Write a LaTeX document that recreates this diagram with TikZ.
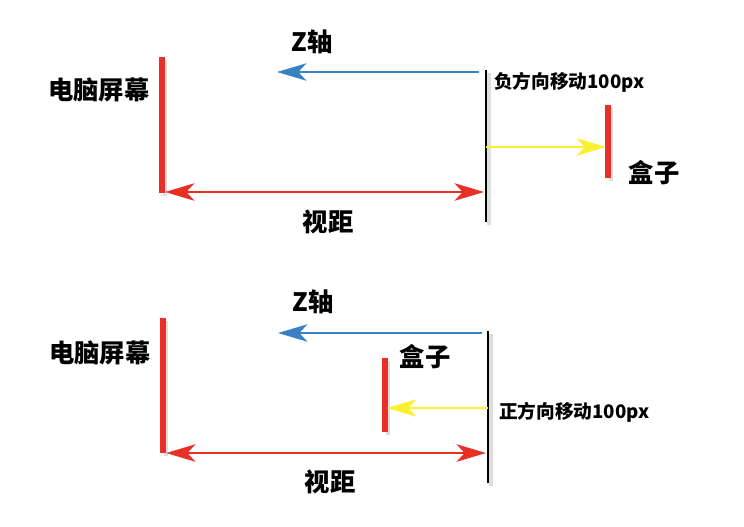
\documentclass[tikz,border=0pt]{standalone}
\usepackage{fontspec}
\newfontfamily\cjk{Noto Sans CJK SC}
\usetikzlibrary{arrows.meta}
\definecolor{scrred}{RGB}{232,48,38}
\definecolor{axblue}{RGB}{58,128,196}
\definecolor{mvyellow}{RGB}{250,240,50}
\tikzset{
  lbl/.style={font=\cjk\bfseries\fontsize{19}{19}\selectfont, inner sep=0pt},
  note/.style={font=\cjk\bfseries\fontsize{14}{14}\selectfont, inner sep=0pt, anchor=west},
  shade/.style={preaction={draw=black!13, line width=3.5pt, transform canvas={shift={(2.2pt,-2.2pt)}}}},
  screen/.style={shade, draw=scrred, line width=4.5pt},
  viewer/.style={shade, draw=black, line width=2.2pt},
  tip/.style={-{Stealth[length=22pt,width=13pt,inset=6pt]}},
  tips/.style={{Stealth[length=22pt,width=13pt,inset=6pt]}-{Stealth[length=22pt,width=13pt,inset=6pt]}},
}
\begin{document}
\begin{tikzpicture}[x=0.75pt,y=-0.75pt]
  \useasboundingbox (0,0) rectangle (744,526);
  % upper: box moved away (negative direction)
  \coordinate (scrA1) at (162,57);   \coordinate (scrA2) at (162,193);
  \coordinate (eyeA1) at (486,70);   \coordinate (eyeA2) at (486,222);
  \coordinate (zA1) at (479,72);     \coordinate (zA2) at (277,72);
  \coordinate (mvA1) at (486,147);   \coordinate (mvA2) at (606,147);
  \coordinate (boxA1) at (608,105);  \coordinate (boxA2) at (608,178);
  \coordinate (dA1) at (165,192);    \coordinate (dA2) at (484,192);
  \draw[screen] (scrA1) -- (scrA2);
  \draw[screen, line width=3.8pt] (boxA1) -- (boxA2);
  \draw[viewer] (eyeA1) -- (eyeA2);
  \draw[tip, draw=axblue, fill=axblue, line width=2.2pt] (zA1) -- (zA2);
  \draw[tip, draw=mvyellow, fill=mvyellow, line width=2.2pt] (mvA1) -- (mvA2);
  \draw[tips, draw=scrred, fill=scrred, line width=2.2pt] (dA1) -- (dA2);
  \node[lbl] (scrlblA) at (99,90) {电脑屏幕};
  \node[lbl] (zlblA) at (312,42) {Z轴};
  \node[note] (mvlblA) at (494,82) {负方向移动100px};
  \node[lbl] (boxlblA) at (654,173) {盒子};
  \node[lbl] (dlblA) at (328,222) {视距};
  % lower: box moved closer (positive direction)
  \coordinate (scrB1) at (163,318);  \coordinate (scrB2) at (163,453);
  \coordinate (eyeB1) at (488,331);  \coordinate (eyeB2) at (488,483);
  \coordinate (zB1) at (482,333);    \coordinate (zB2) at (278,333);
  \coordinate (mvB1) at (488,408);   \coordinate (mvB2) at (387,408);
  \coordinate (boxB1) at (385,358);  \coordinate (boxB2) at (385,432);
  \coordinate (dB1) at (166,453);    \coordinate (dB2) at (486,453);
  \draw[screen] (scrB1) -- (scrB2);
  \draw[screen, line width=3.8pt] (boxB1) -- (boxB2);
  \draw[viewer] (eyeB1) -- (eyeB2);
  \draw[tip, draw=axblue, fill=axblue, line width=2.2pt] (zB1) -- (zB2);
  \draw[tip, draw=mvyellow, fill=mvyellow, line width=2.2pt] (mvB1) -- (mvB2);
  \draw[tips, draw=scrred, fill=scrred, line width=2.2pt] (dB1) -- (dB2);
  \node[lbl] (scrlblB) at (100,353) {电脑屏幕};
  \node[lbl] (zlblB) at (313,302) {Z轴};
  \node[lbl] (boxlblB) at (425,357) {盒子};
  \node[note] (mvlblB) at (499,412) {正方向移动100px};
  \node[lbl] (dlblB) at (330,482) {视距};
\end{tikzpicture}
\end{document}
